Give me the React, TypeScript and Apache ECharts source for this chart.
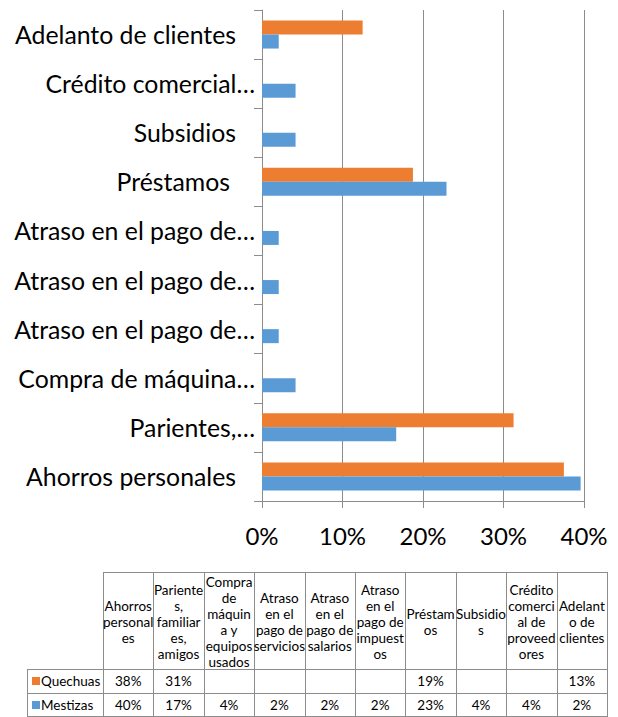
import React, { useEffect, useRef } from 'react';
import * as echarts from 'echarts';

const categories = [
  'Ahorros personales',
  'Parientes, familiares, amigos',
  'Compra de máquina y equipos usados',
  'Atraso en el pago de servicios',
  'Atraso en el pago de salarios',
  'Atraso en el pago de impuestos',
  'Préstamos',
  'Subsidios',
  'Crédito comercial de proveedores',
  'Adelanto de clientes',
];
const axisLabels = [
  'Ahorros personales',
  'Parientes,…',
  'Compra de máquina…',
  'Atraso en el pago de…',
  'Atraso en el pago de…',
  'Atraso en el pago de…',
  'Préstamos ',
  'Subsidios',
  'Crédito comercial…',
  'Adelanto de clientes',
];
const tableHeaders = [
  'Ahorros\npersonal\nes',
  'Pariente\ns,\nfamiliar\nes,\namigos',
  'Compra\nde\nmáquin\na y\nequipos\nusados',
  'Atraso\nen el\npago de\nservicios',
  'Atraso\nen el\npago de\nsalarios',
  'Atraso\nen el\npago de\nimpuest\nos',
  'Préstam\nos',
  'Subsidio\ns',
  'Crédito\ncomerci\nal de\nproveed\nores',
  'Adelant\no de\nclientes',
];
const seriesNames = ['Quechuas', 'Mestizas'];
const quechuas: (number | null)[] = [37.5, 31.25, null, null, null, null, 18.75, null, null, 12.5];
const mestizas: (number | null)[] = [39.58, 16.67, 4.17, 2.08, 2.08, 2.08, 22.92, 4.17, 4.17, 2.08];
const xMin = 0;
const xMax = 40;
const xStep = 10;

const COLORS = ['#ED7D31', '#5B9BD5'];
const FONT = 'Lato, "Liberation Sans", sans-serif';
const GRID_COLOR = '#8C8C8C';
const YFS = 24.8;
const TFS = 13.5;

export default function App() {
  const ref = useRef<HTMLDivElement>(null);

  useEffect(() => {
    document.body.style.margin = '0';
    if (!ref.current) return;
    const chart = echarts.init(ref.current, undefined, { renderer: 'svg' });

    const tblLeft = 27;
    const keyRight = 103;
    const tblRight = 607;
    const hdrTop = 572;
    const hdrBottom = 669;
    const rowH = 24;
    const colW = (tblRight - keyRight) / categories.length;
    const tblBottom = hdrBottom + rowH * 2;
    const lineStyle = { stroke: GRID_COLOR, lineWidth: 1 };

    const graphic: any[] = [];
    const hLine = (y: number, x1: number, x2: number) =>
      graphic.push({ type: 'line', shape: { x1, y1: y + 0.5, x2, y2: y + 0.5 }, style: lineStyle, silent: true });
    const vLine = (x: number, y1: number, y2: number) =>
      graphic.push({ type: 'line', shape: { x1: x + 0.5, y1, x2: x + 0.5, y2 }, style: lineStyle, silent: true });

    hLine(hdrTop, keyRight, tblRight + 1);
    hLine(hdrBottom, tblLeft, tblRight + 1);
    hLine(hdrBottom + rowH, tblLeft, tblRight + 1);
    hLine(tblBottom - 1, tblLeft, tblRight + 1);
    vLine(tblLeft, hdrBottom, tblBottom);
    for (let i = 0; i <= categories.length; i++) {
      vLine(Math.round(keyRight + i * colW), hdrTop, tblBottom);
    }
    tableHeaders.forEach((h, i) => {
      graphic.push({
        type: 'text',
        x: keyRight + (i + 0.5) * colW,
        y: (hdrTop + hdrBottom) / 2 + 1,
        silent: true,
        style: {
          text: h,
          align: 'center',
          verticalAlign: 'middle',
          fontFamily: FONT,
          fontSize: TFS,
          lineHeight: 16,
          fill: '#000',
        },
      });
    });
    [quechuas, mestizas].forEach((vals, r) => {
      const cy = hdrBottom + rowH * r + rowH / 2;
      graphic.push({
        type: 'rect',
        shape: { x: 32, y: cy - 4, width: 8, height: 8 },
        style: { fill: COLORS[r] },
        silent: true,
      });
      graphic.push({
        type: 'text',
        x: 41,
        y: cy,
        silent: true,
        style: { text: seriesNames[r], align: 'left', verticalAlign: 'middle', fontFamily: FONT, fontSize: TFS, fill: '#000' },
      });
      vals.forEach((v, i) => {
        graphic.push({
          type: 'text',
          x: keyRight + (i + 0.5) * colW,
          y: cy,
          silent: true,
          style: {
            text: v == null ? '' : Math.round(v) + '%',
            align: 'center',
            verticalAlign: 'middle',
            fontFamily: FONT,
            fontSize: TFS,
            fill: '#000',
          },
        });
      });
    });

    chart.setOption({
      animation: false,
      grid: { left: 262, right: 34, top: 10, bottom: 216, containLabel: false },
      xAxis: {
        type: 'value',
        min: xMin,
        max: xMax,
        interval: xStep,
        axisLine: { show: true, lineStyle: { color: GRID_COLOR, width: 1 } },
        axisTick: { show: true, length: 7, lineStyle: { color: GRID_COLOR } },
        splitLine: { show: true, lineStyle: { color: GRID_COLOR, width: 1 } },
        axisLabel: {
          formatter: '{value}%',
          fontFamily: FONT,
          fontSize: 24,
          color: '#000',
          margin: 22,
        },
      },
      yAxis: {
        type: 'category',
        data: categories,
        axisLine: { show: true, lineStyle: { color: GRID_COLOR, width: 1 } },
        axisTick: { show: true, length: 8, lineStyle: { color: GRID_COLOR } },
        splitLine: { show: false },
        axisLabel: {
          margin: 7,
          fontFamily: FONT,
          fontSize: YFS,
          color: '#000',
          formatter: (_v: string, idx: number) => {
            const lbl = axisLabels[idx];
            const trimmed = lbl.replace(/\s+$/, '');
            if (trimmed.endsWith('…')) return `{t|${trimmed}}`;
            const extra = lbl.length - trimmed.length;
            return `{${extra > 0 ? 'g' : 'f'}|${trimmed}}`;
          },
          rich: {
            t: { fontFamily: FONT, fontSize: YFS, color: '#000' },
            f: { fontFamily: FONT, fontSize: YFS, color: '#000', padding: [0, 19, 0, 0] },
            g: { fontFamily: FONT, fontSize: YFS, color: '#000', padding: [0, 25, 0, 0] },
          },
        },
      },
      series: [
        {
          name: seriesNames[0],
          type: 'bar',
          data: quechuas,
          barWidth: 14,
          barGap: '0%',
          itemStyle: { color: COLORS[0] },
        },
        {
          name: seriesNames[1],
          type: 'bar',
          data: mestizas,
          barWidth: 14,
          barGap: '0%',
          itemStyle: { color: COLORS[1] },
        },
      ],
      graphic,
    });

    return () => chart.dispose();
  }, []);

  return <div ref={ref} style={{ width: 618, height: 717 }} />;
}
